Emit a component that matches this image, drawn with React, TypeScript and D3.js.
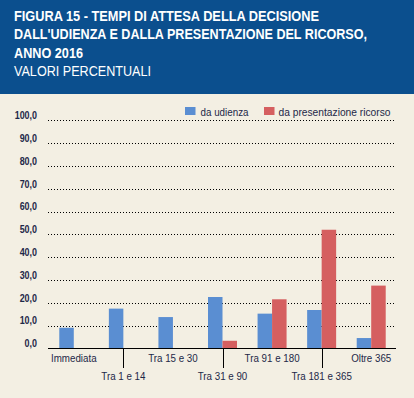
import React from "react";
import * as d3 from "d3";

const categories = ["Immediata", "Tra 1 e 14", "Tra 15 e 30", "Tra 31 e 90", "Tra 91 e 180", "Tra 181 e 365", "Oltre 365"];
const daUdienza = [9.0, 17.4, 13.7, 22.5, 15.2, 16.8, 4.5];
const daPresentazione = [0, 0, 0, 3.3, 21.5, 52.0, 27.5];
const seriesNames = ["da udienza", "da presentazione ricorso"];
const yTicks = [0, 10, 20, 30, 40, 50, 60, 70, 80, 90, 100];
const titleLines = [
  "FIGURA 15 - TEMPI DI ATTESA DELLA DECISIONE",
  "DALL'UDIENZA E DALLA PRESENTAZIONE DEL RICORSO,",
  "ANNO 2016",
];
const subtitle = "VALORI PERCENTUALI";

const W = 414;
const H = 398;
const BLUE = "#5a8ed2";
const RED = "#d55f60";
const HEADER = "#0b4f8e";
const BG = "#f3efe3";
const TXT = "#1d2848";
const FONT = "'Liberation Sans Narrow', 'Liberation Sans', Arial, sans-serif";

export default function App() {
  const x = d3.scaleBand<string>().domain(categories).range([49, 396]).padding(0);
  const y = d3.scaleLinear().domain([0, 100]).range([348.3, 120.3]);
  const barW = 14.5;
  const fmt = (v: number) => v.toFixed(1).replace(".", ",");

  const titleWidths = [305, 353, 69];

  return (
    <div style={{ position: "fixed", left: 0, top: 0 }}>
      <svg width={W} height={H} style={{ display: "block" }}>
        <rect x={0} y={0} width={W} height={H} fill={BG} />
        <rect x={0} y={0} width={W} height={94} fill={HEADER} />
        {titleLines.map((t, i) => (
          <text
            key={i}
            x={14}
            y={20.5 + i * 18.5}
            fill="#fff"
            fontFamily={FONT}
            fontWeight="bold"
            fontSize={14}
            textLength={titleWidths[i]}
            lengthAdjust="spacingAndGlyphs"
          >
            {t}
          </text>
        ))}
        <text
          x={14}
          y={76}
          fill="#fff"
          fontFamily={FONT}
          fontSize={14}
          textLength={137}
          lengthAdjust="spacingAndGlyphs"
        >
          {subtitle}
        </text>

        {/* legend */}
        <rect x={185} y={107} width={10.5} height={8} fill={BLUE} />
        <text x={200.5} y={116} fill={TXT} fontFamily={FONT} fontSize={11.5} textLength={48} lengthAdjust="spacingAndGlyphs">
          {seriesNames[0]}
        </text>
        <rect x={264} y={107} width={10.5} height={8} fill={RED} />
        <text x={278.5} y={116} fill={TXT} fontFamily={FONT} fontSize={11.5} textLength={112} lengthAdjust="spacingAndGlyphs">
          {seriesNames[1]}
        </text>

        {/* gridlines + y labels */}
        {yTicks.map((t) => (
          <g key={t}>
            {t > 0 && (
              <line
                x1={48}
                x2={396}
                y1={Math.round(y(t)) + 0.5}
                y2={Math.round(y(t)) + 0.5}
                stroke="#000"
                strokeWidth={1}
                strokeDasharray="1,2"
              />
            )}
            <text
              transform={`translate(37,${y(t) - 1.2}) scale(0.85,1)`}
              textAnchor="end"
              fill={TXT}
              fontFamily={FONT}
              fontWeight="bold"
              fontSize={10.5}
            >
              {fmt(t)}
            </text>
          </g>
        ))}

        {/* bars */}
        {categories.map((c, i) => {
          const cx = (x(c) as number) + x.bandwidth() / 2;
          return (
            <g key={c}>
              {daUdienza[i] > 0 && (
                <rect x={cx - barW} y={y(daUdienza[i])} width={barW} height={y(0) - y(daUdienza[i])} fill={BLUE} />
              )}
              {daPresentazione[i] > 0 && (
                <rect x={cx} y={y(daPresentazione[i])} width={barW} height={y(0) - y(daPresentazione[i])} fill={RED} />
              )}
            </g>
          );
        })}

        {/* axis */}
        <line x1={48} x2={396} y1={348.5} y2={348.5} stroke="#000" strokeWidth={1} />
        {categories.map((c, i) => {
          const cx = (x(c) as number) + x.bandwidth() / 2;
          const odd = i % 2 === 1;
          return (
            <g key={c}>
              {odd && (
                <line x1={Math.round(cx) + 0.5} x2={Math.round(cx) + 0.5} y1={348} y2={368} stroke="#000" strokeWidth={1} />
              )}
              <text
                transform={`translate(${cx},${odd ? 380 : 362}) scale(0.85,1)`}
                textAnchor="middle"
                fill={TXT}
                fontFamily={FONT}
                fontSize={11.5}
              >
                {c}
              </text>
            </g>
          );
        })}
      </svg>
    </div>
  );
}
